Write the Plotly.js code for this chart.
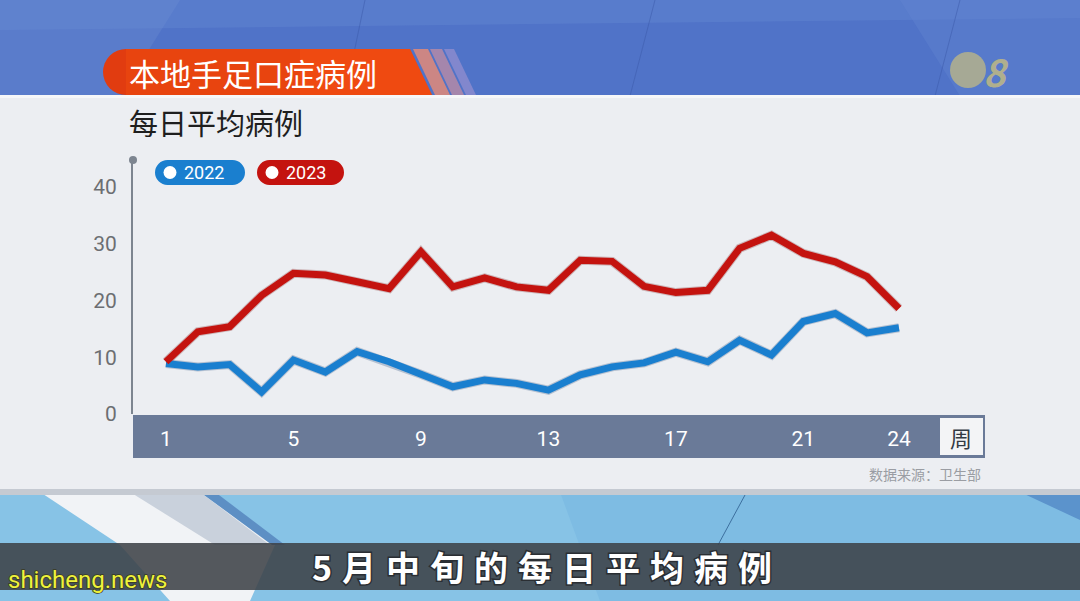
<!DOCTYPE html>
<html><head><meta charset="utf-8">
<script src="https://cdn.plot.ly/plotly-3.0.1.min.js"></script>
<style>
html,body{margin:0;padding:0;background:#eceef2;overflow:hidden;}
#chart{width:1080px;height:601px;}
.annotation[data-index="6"] text{letter-spacing:10px;paint-order:stroke;stroke:#2a2e33;stroke-width:3px;}
.annotation[data-index="7"] text{paint-order:stroke;stroke:#3a3a20;stroke-width:1.5px;}
</style></head>
<body><div id="chart"></div>
<script>
// ---- data ----
const weeks = [1,2,3,4,5,6,7,8,9,10,11,12,13,14,15,16,17,18,19,20,21,22,23,24];
const cases2022 = [8.9,8.3,8.7,3.9,9.5,7.4,11.0,9.2,7.0,4.8,6.0,5.4,4.2,6.9,8.3,9.0,10.9,9.2,13.0,10.4,16.3,17.7,14.3,15.2];
const cases2023 = [9.2,14.5,15.4,20.9,24.8,24.5,23.3,22.1,28.6,22.4,24.0,22.4,21.8,27.1,26.9,22.5,21.4,21.8,29.2,31.5,28.3,26.8,24.2,18.6];
const seriesNames = ['2022','2023'];
const xTickVals = [1,5,9,13,17,21,24];
const xTickText = ['1','5','9','13','17','21','24'];
const yTickVals = [0,10,20,30,40];
const yTickText = ['0','10','20','30','40'];
const titleText = '本地手足口症病例';
const subtitleText = '每日平均病例';
const unitText = '周';
const sourceText = '数据来源：卫生部';
const captionText = '5月中旬的每日平均病例';
const watermarkText = 'shicheng.news';

// ---- helpers (pixel -> paper) ----
const W = 1080, H = 601;
const X = x => x / W, Y = y => 1 - y / H;
function rect(x0, y0, x1, y1, fill, extra) {
  return Object.assign({type:'rect', xref:'paper', yref:'paper', x0:X(x0), x1:X(x1), y0:Y(y1), y1:Y(y0),
    fillcolor:fill, line:{width:0}, layer:'below'}, extra || {});
}
function circ(cx, cy, r, fill, extra) {
  return Object.assign({type:'circle', xref:'paper', yref:'paper', x0:X(cx-r), x1:X(cx+r), y0:Y(cy+r), y1:Y(cy-r),
    fillcolor:fill, line:{width:0}, layer:'below'}, extra || {});
}
function poly(pts, fill, extra) {
  return Object.assign({type:'path', xref:'paper', yref:'paper',
    path:'M' + pts.map(p => X(p[0]) + ',' + Y(p[1])).join('L') + 'Z',
    fillcolor:fill, line:{width:0}, layer:'below'}, extra || {});
}
function seg(x0, y0, x1, y1, color, w) {
  return {type:'line', xref:'paper', yref:'paper', x0:X(x0), y0:Y(y0), x1:X(x1), y1:Y(y1), line:{color:color, width:w}, layer:'below'};
}
function pill(x0, y0, x1, y1, fill) {
  const r = (y1 - y0) / 2;
  return [rect(x0 + r, y0, x1 - r, y1, fill), circ(x0 + r, y0 + r, r, fill), circ(x1 - r, y0 + r, r, fill)];
}

const red = '#c4130f', blue = '#1a7fcf';
const font = '"Noto Sans CJK SC", "Noto Sans", sans-serif';
const narrow = '"Liberation Sans Narrow", Roboto, "Noto Sans", sans-serif';

const shapes = [
  // top studio background
  rect(0, 0, 1080, 96, '#5073c8'),
  poly([[0,0],[180,0],[120,96],[0,96]], '#5a7ccb'),
  poly([[0,0],[1080,0],[1080,18],[0,30]], 'rgba(110,145,215,0.3)'),
  poly([[900,0],[1080,0],[1080,96],[960,96]], 'rgba(100,135,210,0.35)'),
  seg(365, 0, 345, 96, 'rgba(60,90,170,0.5)', 1),
  seg(655, 0, 630, 96, 'rgba(60,90,170,0.5)', 1),
  seg(960, 0, 935, 96, 'rgba(60,90,170,0.5)', 1),
  // panel
  rect(0, 95, 1080, 492, '#eceef2'),
  rect(0, 95, 1080, 98, '#f6f7f9'),
  // bottom background
  rect(0, 492, 1080, 601, '#87c3e6'),
  poly([[560,492],[1080,492],[1080,601],[600,601]], '#7ebce3'),
  poly([[1020,492],[1080,492],[1080,520]], '#5b93cc'),
  poly([[40,492],[200,492],[275,545],[250,601],[170,601],[120,545]], '#f1f3f6'),
  poly([[130,492],[200,492],[270,545],[215,545]], '#c9d1dc'),
  poly([[200,492],[215,492],[285,545],[272,545]], '#5d8fc4'),
  rect(0, 489, 1080, 495, '#c5cad2'),
  seg(745, 495, 718, 545, '#3d6f9e', 1),
  // caption bar
  rect(0, 543, 1080, 590, 'rgba(62,66,72,0.88)'),
  // title banner
  circ(126, 72, 23, '#e13c10'),
  poly([[126,49],[410,49],[432,95],[126,95]], '#e8440f'),
  poly([[300,49],[410,49],[432,95],[300,95]], 'rgba(245,80,20,0.5)'),
  poly([[413,49],[428,49],[450,95],[435,95]], 'rgba(245,140,110,0.75)'),
  poly([[430,49],[442,49],[464,95],[452,95]], 'rgba(235,150,150,0.55)'),
  poly([[444,49],[454,49],[476,95],[466,95]], 'rgba(190,160,210,0.45)'),
  // logo
  circ(968, 70, 18, 'rgba(200,190,125,0.7)'),
  // x-axis band
  rect(133, 415, 985, 458, '#6a7a98'),
  rect(940, 418, 983, 455, '#f3f4f6'),
  // y-axis top dot
  circ(133, 160, 4, '#7d8590', {layer:'above'}),
  // legend pills
  ...pill(155, 160, 245, 185, blue),
  ...pill(257, 160, 344, 185, red),
  circ(170, 172.5, 6.5, '#ffffff', {layer:'above'}),
  circ(272, 172.5, 6.5, '#ffffff', {layer:'above'})
];

const annotations = [
  {text:titleText, x:X(127), y:Y(72), xanchor:'left', yanchor:'middle', font:{family:font, size:31, color:'#ffffff'}},
  {text:subtitleText, x:X(127), y:Y(122), xanchor:'left', yanchor:'middle', font:{family:font, size:29, color:'#1e1e1e'}},
  {text:seriesNames[0], x:X(182), y:Y(172.5), xanchor:'left', yanchor:'middle', font:{family:narrow, size:18, color:'#ffffff'}},
  {text:seriesNames[1], x:X(284), y:Y(172.5), xanchor:'left', yanchor:'middle', font:{family:narrow, size:18, color:'#ffffff'}},
  {text:unitText, x:X(961.5), y:Y(437), xanchor:'center', yanchor:'middle', font:{family:font, size:22, color:'#333a44'}},
  {text:sourceText, x:X(983), y:Y(474), xanchor:'right', yanchor:'middle', font:{family:font, size:14, color:'#9a9da3'}},
  {text:'<b>' + captionText + '</b>', x:X(547), y:Y(566), xanchor:'center', yanchor:'middle', font:{family:font, size:34, color:'#ffffff'}},
  {text:watermarkText, x:X(6), y:Y(580), xanchor:'left', yanchor:'middle', font:{family:narrow, size:24, color:'#eef23c'}},
  {text:'<b><i>8</i></b>', x:X(996), y:Y(70), xanchor:'center', yanchor:'middle', font:{family:font, size:38, color:'rgba(200,190,125,0.8)'}}
].map(a => Object.assign({xref:'paper', yref:'paper', showarrow:false}, a));

const traces = [
  {x:weeks, y:cases2022, type:'scatter', mode:'lines', name:seriesNames[0], line:{color:'rgba(20,60,110,0.25)', width:9}, hoverinfo:'skip', showlegend:false},
  {x:weeks, y:cases2023, type:'scatter', mode:'lines', name:seriesNames[1], line:{color:'rgba(110,10,10,0.25)', width:9}, hoverinfo:'skip', showlegend:false},
  {x:weeks, y:cases2022, type:'scatter', mode:'lines', name:seriesNames[0], line:{color:blue, width:7}, showlegend:false},
  {x:weeks, y:cases2023, type:'scatter', mode:'lines', name:seriesNames[1], line:{color:red, width:7}, showlegend:false}
];

const layout = {
  width:W, height:H,
  margin:{l:0, r:0, t:0, b:0},
  paper_bgcolor:'#eceef2', plot_bgcolor:'rgba(0,0,0,0)',
  showlegend:false,
  xaxis:{domain:[X(133), X(985)], range:[-0.035, 26.70], tickvals:xTickVals, ticktext:xTickText,
    showgrid:false, zeroline:false, showline:false, ticks:'', ticklabelstandoff:10,
    tickfont:{family:narrow, size:21, color:'#ffffff'}, fixedrange:true},
  yaxis:{domain:[Y(414), Y(160)], range:[0, 44.76], tickvals:yTickVals, ticktext:yTickText,
    showgrid:false, zeroline:false, showline:true, linecolor:'#7d8590', linewidth:2, ticks:'', ticklabelstandoff:10,
    tickfont:{family:narrow, size:21, color:'#6c6e72'}, fixedrange:true},
  shapes:shapes, annotations:annotations
};

Plotly.newPlot('chart', traces, layout, {displayModeBar:false, staticPlot:true});
</script></body></html>
